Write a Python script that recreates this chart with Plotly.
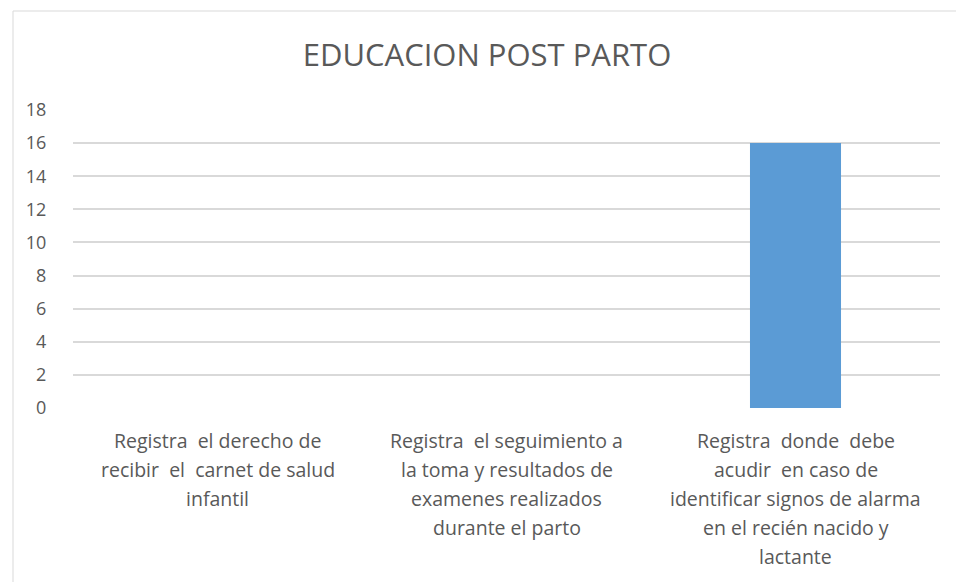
import plotly.graph_objects as go

categories = ["cat1", "cat2", "cat3"]
values = [0, 0, 16]
label_lines = [
    ["Registra  el derecho de", "recibir  el  carnet de salud", "infantil"],
    ["Registra  el seguimiento a", "la toma y resultados de", "examenes realizados", "durante el parto"],
    ["Registra  donde  debe", "acudir  en caso de", "identificar signos de alarma", "en el recién nacido y", "lactante"],
]
y_ticks = [0, 2, 4, 6, 8, 10, 12, 14, 16, 18]

TEXT = "#595959"
GRID = "#d9d9d9"
FONT = "Open Sans, sans-serif"

fig = go.Figure(
    go.Bar(x=categories, y=values, marker_color="#5b9bd5", marker_line_width=0, width=0.315)
)

# category labels drawn line by line to get Excel-like line spacing
annotations = []
for cat, lines in zip(categories, label_lines):
    for i, line in enumerate(lines):
        annotations.append(dict(
            x=cat, xref="x", y=0, yref="paper", yanchor="middle",
            yshift=-32 - 29 * i, text=line.replace("  ", "&nbsp; "), showarrow=False,
            font=dict(family=FONT, size=19.5, color=TEXT),
        ))

fig.update_layout(
    width=956, height=582,
    margin=dict(l=73, r=16, t=110, b=174),
    paper_bgcolor="white", plot_bgcolor="white",
    showlegend=False,
    title=dict(
        text="EDUCACION POST PARTO", x=487 / 956, xanchor="center", xref="container",
        y=1 - 55 / 582, yanchor="middle", yref="container",
        font=dict(family=FONT, size=31, color=TEXT),
    ),
    annotations=annotations,
    shapes=[
        dict(type="line", xref="paper", yref="paper", x0=(13 - 73) / 867, x1=(13 - 73) / 867,
             y0=1 + (110 - 11) / 298, y1=-1, line=dict(color=GRID, width=1)),
        dict(type="line", xref="paper", yref="paper", x0=(13 - 73) / 867, x1=1.1,
             y0=1 + (110 - 11) / 298, y1=1 + (110 - 11) / 298, line=dict(color=GRID, width=1)),
    ],
)
fig.update_xaxes(showticklabels=False, showgrid=False, showline=False, zeroline=False)
fig.update_yaxes(
    range=[0, 18], tickvals=y_ticks, showgrid=True, gridcolor=GRID, gridwidth=1.5,
    zeroline=False, showline=False, ticks="outside", ticklen=22, tickcolor="rgba(0,0,0,0)",
    tickfont=dict(family=FONT, size=18, color=TEXT),
)

fig.write_html(
    "out.html",
    config={"displayModeBar": False},
    post_script="document.body.style.margin='0';",
)
